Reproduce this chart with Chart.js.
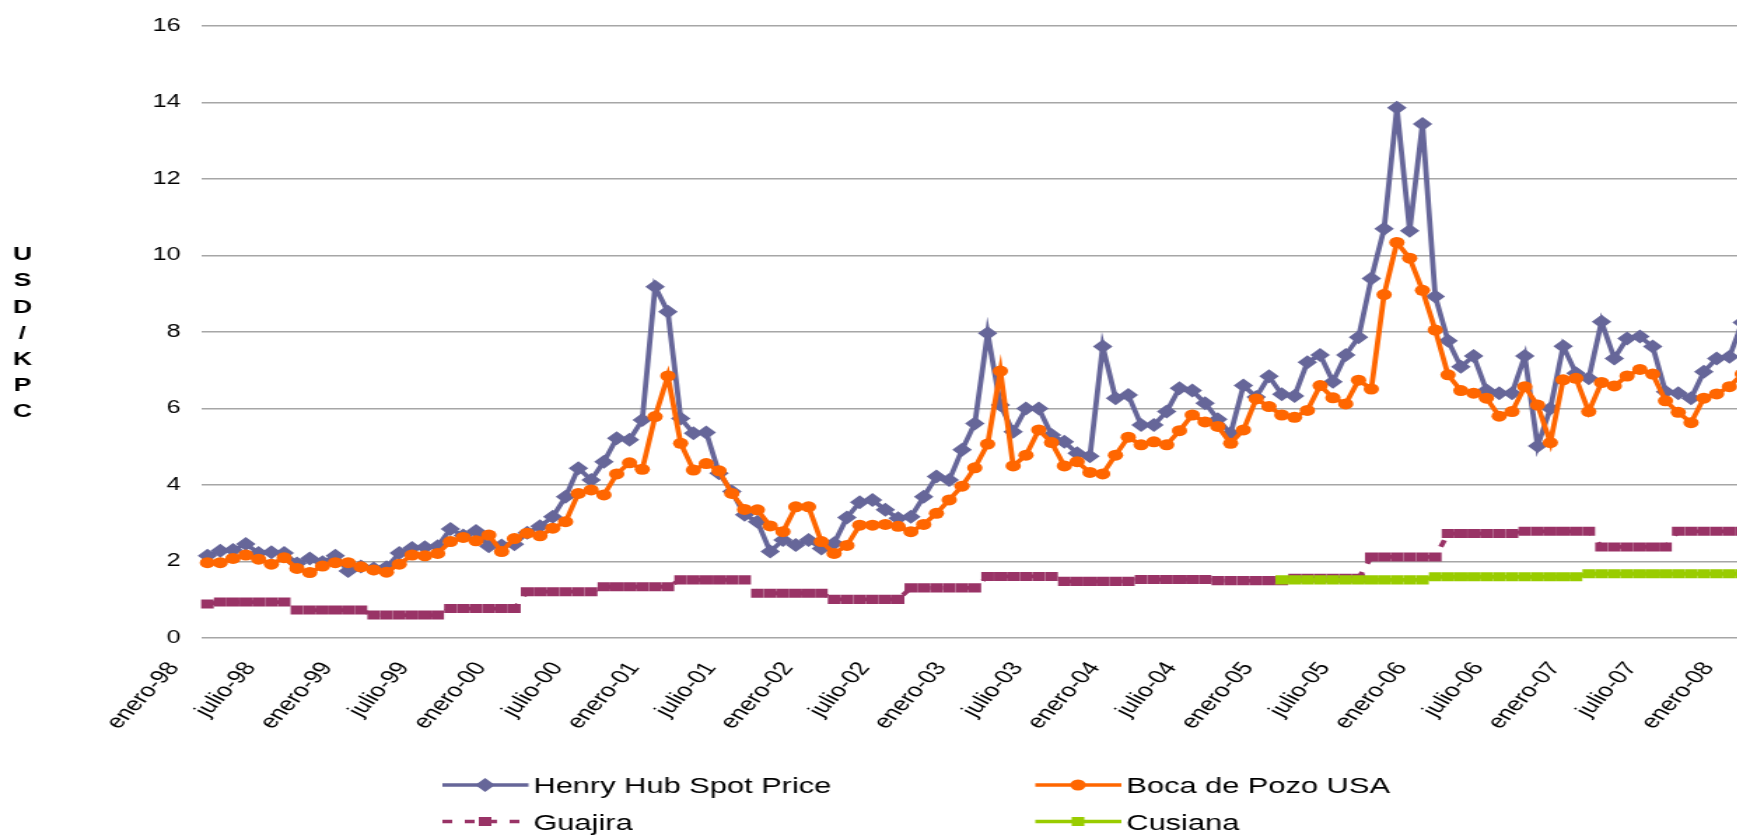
<!DOCTYPE html>
<html>
<head>
<meta charset="utf-8">
<script src="https://cdn.jsdelivr.net/npm/chart.js@4.4.1/dist/chart.umd.min.js"></script>
<style>
  html, body { margin: 0; padding: 0; background: #fff; overflow: hidden; }
  #marco { width: 1737px; height: 836px; overflow: hidden; }
  /* the original picture is stretched sideways, so the chart is drawn narrow and widened */
  #precios { display: block; transform: scaleX(1.4); transform-origin: 0 0; }
</style>
</head>
<body>
<div id="marco"><canvas id="precios" width="1256" height="836"></canvas></div>
<script>
const fuente = '"Liberation Sans", Arial, sans-serif';

// meses enero-98 ... enero-08
const nombresMes = ['enero', 'febrero', 'marzo', 'abril', 'mayo', 'junio',
  'julio', 'agosto', 'septiembre', 'octubre', 'noviembre', 'diciembre'];
const meses = [];
for (let a = 1998; a <= 2008; a++) {
  for (let m = 0; m < 12 && meses.length < 121; m++) {
    meses.push(nombresMes[m] + '-' + String(a).slice(2));
  }
}

const henryHub = [
  2.15, 2.28, 2.30, 2.46, 2.22, 2.24, 2.22, 1.95, 2.08, 1.98, 2.15, 1.75,   // 1998
  1.87, 1.82, 1.85, 2.22, 2.35, 2.37, 2.40, 2.85, 2.68, 2.80, 2.40, 2.42,   // 1999
  2.45, 2.75, 2.92, 3.17, 3.69, 4.44, 4.13, 4.61, 5.22, 5.18, 5.70, 9.18,   // 2000
  8.53, 5.74, 5.35, 5.37, 4.31, 3.83, 3.22, 3.04, 2.26, 2.56, 2.43, 2.56,   // 2001
  2.34, 2.48, 3.15, 3.55, 3.61, 3.35, 3.13, 3.17, 3.69, 4.22, 4.13, 4.92,   // 2002
  5.61, 7.97, 6.09, 5.39, 6.00, 6.00, 5.31, 5.13, 4.83, 4.75, 7.62, 6.27,   // 2003
  6.35, 5.57, 5.57, 5.92, 6.53, 6.47, 6.14, 5.72, 5.35, 6.60, 6.30, 6.84,   // 2004
  6.37, 6.33, 7.21, 7.40, 6.70, 7.40, 7.86, 9.40, 10.70, 13.86, 10.65, 13.44, // 2005
  8.93, 7.77, 7.09, 7.37, 6.48, 6.40, 6.40, 7.37, 5.02, 6.00, 7.63, 6.92,   // 2006
  6.79, 8.27, 7.31, 7.83, 7.88, 7.62, 6.44, 6.40, 6.27, 6.96, 7.31, 7.35,   // 2007
  8.25                                                                      // 2008
];

const bocaPozo = [
  1.97, 1.97, 2.08, 2.17, 2.06, 1.93, 2.10, 1.82, 1.71, 1.88, 1.97, 1.97,
  1.86, 1.78, 1.72, 1.93, 2.17, 2.15, 2.21, 2.52, 2.63, 2.54, 2.69, 2.26,
  2.60, 2.74, 2.67, 2.87, 3.04, 3.78, 3.87, 3.74, 4.29, 4.58, 4.41, 5.79,
  6.85, 5.09, 4.39, 4.56, 4.37, 3.78, 3.36, 3.35, 2.93, 2.78, 3.43, 3.43,
  2.52, 2.21, 2.42, 2.95, 2.95, 2.97, 2.92, 2.78, 2.97, 3.26, 3.61, 3.97,
  4.45, 5.07, 6.98, 4.50, 4.78, 5.44, 5.11, 4.50, 4.61, 4.33, 4.29, 4.78,
  5.25, 5.05, 5.13, 5.05, 5.42, 5.83, 5.65, 5.53, 5.09, 5.44, 6.25, 6.05,
  5.83, 5.77, 5.95, 6.60, 6.28, 6.12, 6.74, 6.51, 8.98, 10.34, 9.93, 9.09,
  8.05, 6.88, 6.47, 6.40, 6.27, 5.80, 5.92, 6.57, 6.09, 5.11, 6.75, 6.79,
  5.92, 6.68, 6.59, 6.85, 7.02, 6.90, 6.20, 5.90, 5.63, 6.27, 6.38, 6.57,
  6.90
];

const guajira = [
  0.89, 0.94, 0.94, 0.94, 0.94, 0.94, 0.94, 0.73, 0.73, 0.73, 0.73, 0.73,
  0.73, 0.60, 0.60, 0.60, 0.60, 0.60, 0.60, 0.77, 0.77, 0.77, 0.77, 0.77,
  0.77, 1.21, 1.21, 1.21, 1.21, 1.21, 1.21, 1.34, 1.34, 1.34, 1.34, 1.34,
  1.34, 1.52, 1.52, 1.52, 1.52, 1.52, 1.52, 1.17, 1.17, 1.17, 1.17, 1.17,
  1.17, 1.01, 1.01, 1.01, 1.01, 1.01, 1.01, 1.31, 1.31, 1.31, 1.31, 1.31,
  1.31, 1.61, 1.61, 1.61, 1.61, 1.61, 1.61, 1.48, 1.48, 1.48, 1.48, 1.48,
  1.48, 1.53, 1.53, 1.53, 1.53, 1.53, 1.53, 1.50, 1.50, 1.50, 1.50, 1.50,
  1.50, 1.56, 1.56, 1.56, 1.56, 1.56, 1.56, 2.12, 2.12, 2.12, 2.12, 2.12,
  2.12, 2.73, 2.73, 2.73, 2.73, 2.73, 2.73, 2.79, 2.79, 2.79, 2.79, 2.79,
  2.79, 2.38, 2.38, 2.38, 2.38, 2.38, 2.38, 2.79, 2.79, 2.79, 2.79, 2.79,
  2.79
];

const cusiana = [
  null, null, null, null, null, null, null, null, null, null, null, null,
  null, null, null, null, null, null, null, null, null, null, null, null,
  null, null, null, null, null, null, null, null, null, null, null, null,
  null, null, null, null, null, null, null, null, null, null, null, null,
  null, null, null, null, null, null, null, null, null, null, null, null,
  null, null, null, null, null, null, null, null, null, null, null, null,
  null, null, null, null, null, null, null, null, null, null, null, null,
  1.52, 1.52, 1.52, 1.52, 1.52, 1.52, 1.52, 1.52, 1.52, 1.52, 1.52, 1.52,
  1.60, 1.60, 1.60, 1.60, 1.60, 1.60, 1.60, 1.60, 1.60, 1.60, 1.60, 1.60,
  1.68, 1.68, 1.68, 1.68, 1.68, 1.68, 1.68, 1.68, 1.68, 1.68, 1.68, 1.68,
  1.68
];

function serie(nombre, datos, color, estilo, radio, orden, guion) {
  return {
    label: nombre,
    data: datos,
    borderColor: color,
    backgroundColor: color,
    borderWidth: 3.8,
    borderDash: guion || [],
    pointStyle: estilo,
    pointRadius: radio,
    pointBorderWidth: 0,
    pointBackgroundColor: color,
    pointHoverRadius: radio,
    tension: 0,
    fill: false,
    order: orden
  };
}

// marker drawn by hand for the legend
function marca(ctx, estilo, r, x, y) {
  ctx.beginPath();
  if (estilo === 'rectRot') {
    ctx.moveTo(x, y - r); ctx.lineTo(x + r, y); ctx.lineTo(x, y + r); ctx.lineTo(x - r, y);
    ctx.closePath();
  } else if (estilo === 'circle') {
    ctx.arc(x, y, r, 0, Math.PI * 2);
  } else {
    const h = r * Math.SQRT1_2;
    ctx.rect(x - h, y - h, 2 * h, 2 * h);
  }
  ctx.fill();
}

const leyenda = {
  id: 'leyenda',
  afterDraw(chart) {
    const ctx = chart.ctx;
    ctx.save();
    chart.data.datasets.forEach((ds, k) => {
      const x0 = (k % 2) ? 739.5 : 316;
      const y = (k < 2) ? 785 : 821.5;
      ctx.strokeStyle = ds.borderColor;
      ctx.fillStyle = ds.borderColor;
      ctx.lineWidth = 3.3;
      ctx.setLineDash(ds.borderDash);
      ctx.beginPath();
      ctx.moveTo(x0, y);
      ctx.lineTo(x0 + 61.5, y);
      ctx.stroke();
      ctx.setLineDash([]);
      marca(ctx, ds.pointStyle, ds.pointRadius, x0 + 30.5, y);
      ctx.fillStyle = '#000';
      ctx.font = '22px ' + fuente;
      ctx.textAlign = 'left';
      ctx.textBaseline = 'alphabetic';
      ctx.fillText(ds.label, x0 + 65, y + 8);
    });
    ctx.restore();
  }
};

const tituloEje = {
  id: 'tituloEje',
  afterDraw(chart) {
    const ctx = chart.ctx;
    ctx.save();
    ctx.fillStyle = '#000';
    ctx.font = 'bold 19px ' + fuente;
    ctx.textAlign = 'center';
    ctx.textBaseline = 'middle';
    'USD/KPC'.split('').forEach((c, i) => ctx.fillText(c, 16, 255 + i * 26.2));
    ctx.restore();
  }
};

new Chart(document.getElementById('precios').getContext('2d'), {
  type: 'line',
  data: {
    labels: meses,
    datasets: [
      serie('Henry Hub Spot Price', henryHub, '#666699', 'rectRot', 7, 2),
      serie('Boca de Pozo USA', bocaPozo, '#ff6600', 'circle', 5.5, 0),
      serie('Guajira', guajira, '#993366', 'rect', 6.4, 3, [7, 9]),
      serie('Cusiana', cusiana, '#99cc00', 'rect', 6.4, 1)
    ]
  },
  options: {
    responsive: false,
    animation: false,
    devicePixelRatio: 1,
    layout: { padding: { top: 26, left: 0, right: 5.3, bottom: 0 } },
    plugins: {
      legend: { display: false },
      tooltip: { enabled: false },
      title: { display: false }
    },
    scales: {
      x: {
        offset: true,
        grid: { display: false, drawTicks: false },
        border: { display: false },
        ticks: {
          autoSkip: false,
          minRotation: 55,
          maxRotation: 55,
          padding: 20,
          labelOffset: -24,
          color: '#000',
          font: { family: fuente, size: 19 },
          callback: function (v, i) {
            return i % 6 === 0 ? this.getLabelForValue(v) : null;
          }
        },
        afterFit(s) { s.height = 198; s.paddingLeft = 0; s.paddingRight = 0; }
      },
      y: {
        min: 0,
        max: 16,
        ticks: {
          stepSize: 2,
          padding: 14.6,
          color: '#000',
          font: { family: fuente, size: 18 }
        },
        grid: { color: '#a6a6a6', lineWidth: 1.5, drawTicks: false },
        border: { display: false },
        afterFit(s) { s.width = 143.6; s.paddingTop = 0; s.paddingBottom = 0; }
      }
    }
  },
  plugins: [leyenda, tituloEje]
});
</script>
</body>
</html>
